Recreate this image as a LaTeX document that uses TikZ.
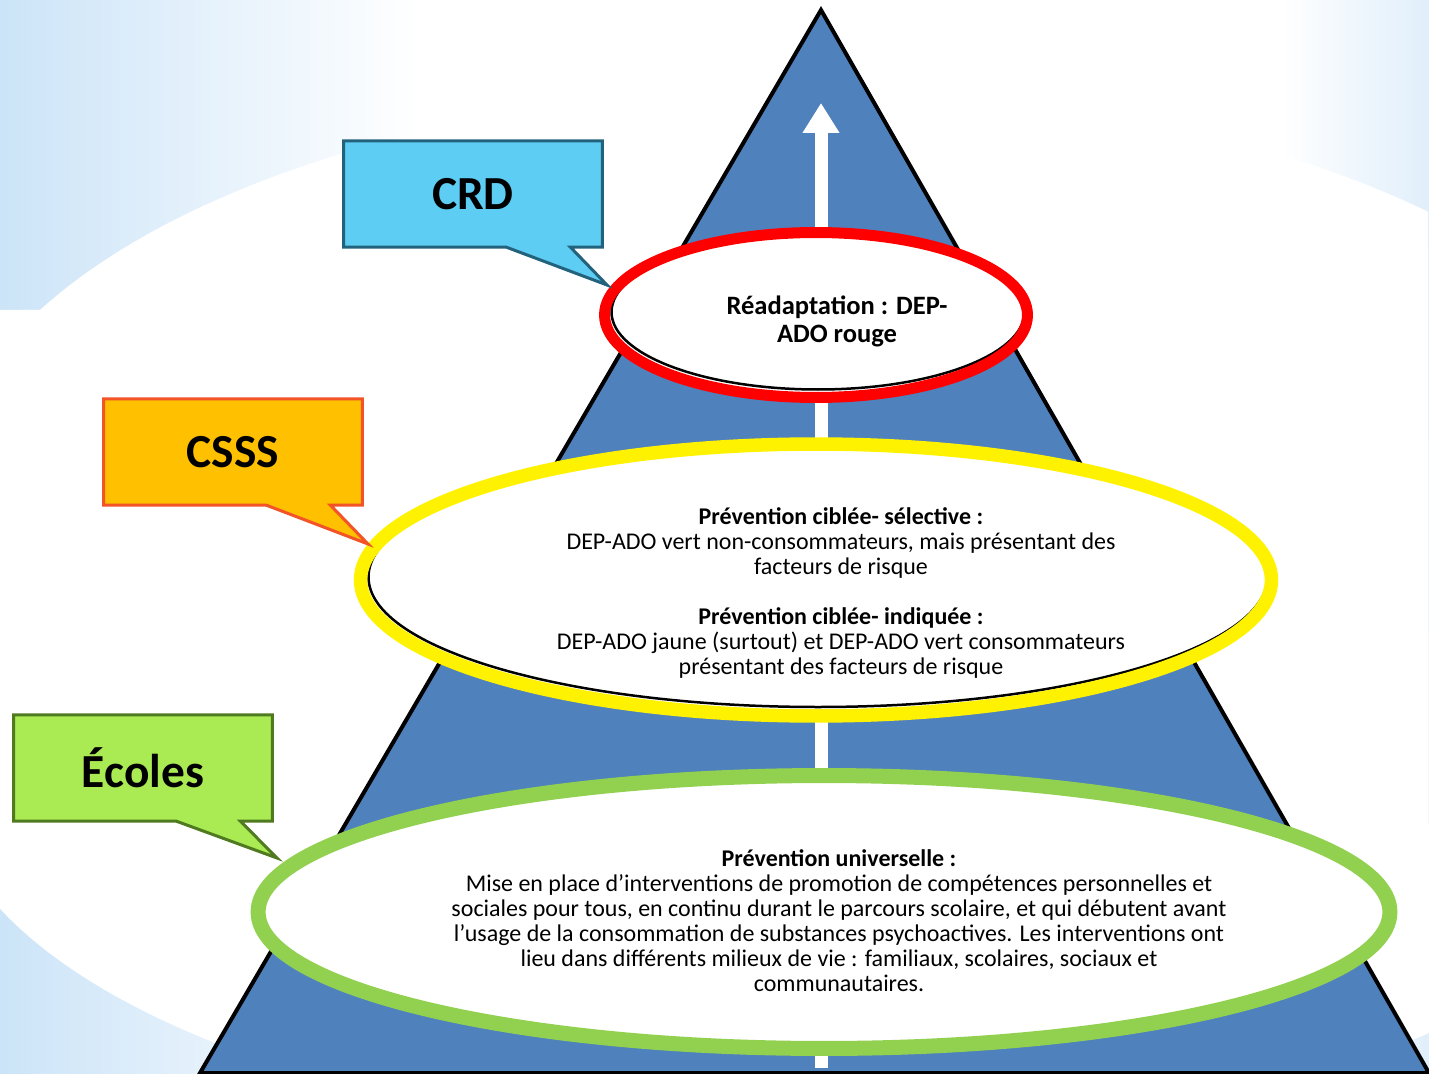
\documentclass[tikz,border=0pt]{standalone}
\usepackage{fontspec}
\setmainfont{Carlito}
\usetikzlibrary{shapes.geometric, shapes.callouts, arrows.meta, positioning, calc}
\definecolor{washblue}{RGB}{204,228,248}
\definecolor{pyramidblue}{RGB}{79,129,189}
\definecolor{ringgreen}{RGB}{146,208,80}
\definecolor{crdfill}{RGB}{94,205,243}
\definecolor{crdline}{RGB}{35,98,125}
\definecolor{csssfill}{RGB}{255,192,0}
\definecolor{csssline}{RGB}{242,84,40}
\definecolor{ecolesfill}{RGB}{170,235,84}
\definecolor{ecolesline}{RGB}{79,122,32}
\tikzset{
    ringfill/.style={
        ellipse,
        fill=white,
        inner sep=0pt
    },
    ring/.style={
        ellipse,
        draw=#1,
        inner sep=0pt
    },
    ringshadow/.style={
        draw=black,
        line width=0.05cm
    },
    bubble/.style 2 args={
        rectangle callout,
        fill=#1,
        draw=#2,
        line width=0.06cm,
        minimum width=5.18cm,
        minimum height=2.13cm,
        inner sep=0pt,
        callout pointer width=1.28cm,
        font=\fontsize{27}{30}\selectfont\bfseries
    },
    leveltext/.style={
        align=center,
        inner sep=0pt,
        font=\fontsize{13.65}{14.2}\selectfont
    },
}
\begin{document}
\begin{tikzpicture}[x=0.02cm, y=-0.02cm]
\useasboundingbox (0,0) rectangle (1429,1074);

% Background wash
\fill[left color=washblue, right color=white] (0,0) rectangle (420,1074);
\fill[left color=white, right color=washblue!60] (1280,0) rectangle (1429,1074);
\fill[white] (0,310) -- (40,310)
    arc[start angle=207.8, end angle=315.3, x radius=870, y radius=415]
    -- (1429,1033)
    arc[start angle=44.64, end angle=158.6, x radius=870, y radius=368] -- cycle;

% Pyramid
\coordinate (apex) at (821,10);
\coordinate (baseL) at (200,1073);
\coordinate (baseR) at (1429,1073);
\filldraw[fill=pyramidblue, draw=black, line width=0.08cm] (apex) -- (baseL) -- (baseR) -- cycle;

% Upward arrow
\coordinate (arrowfoot) at (821,1068);
\coordinate (arrowtip) at (821,103);
\draw[white, line width=0.26cm, -{Triangle[width=0.7cm, length=0.6cm]}] (arrowfoot) -- (arrowtip);

% Level 3: CRD
\node[ringfill, minimum width=8.46cm, minimum height=3.3cm] (redfill) at (816,315) {};
\draw[ringshadow] ([shift={(2,-3)}]redfill.center) ellipse (206.5 and 77.5);
\node[ring=red, line width=0.22cm, minimum width=8.46cm, minimum height=3.3cm] (redring) at (redfill) {};
\node[leveltext, font=\fontsize{15.1}{15.9}\selectfont\bfseries] (redtext) at (837,321) {
    Réadaptation : DEP-\\
    ADO rouge
};

% Level 2: CSSS
\node[ringfill, minimum width=18.22cm, minimum height=5.44cm] (yellowfill) at (816,580) {};
\draw[ringshadow] ([shift={(2,-3)}]yellowfill.center) ellipse (449.5 and 130);
\node[ring=yellow, line width=0.27cm, minimum width=18.22cm, minimum height=5.44cm] (yellowring) at (yellowfill) {};
\node[leveltext] (yellowtext) at (841,593) {
    \textbf{Prévention ciblée- sélective :}\\
    DEP-ADO vert non-consommateurs, mais présentant des\\
    facteurs de risque\\[14.2pt]
    \textbf{Prévention ciblée- indiquée :}\\
    DEP-ADO jaune (surtout) et DEP-ADO vert consommateurs\\
    présentant des facteurs de risque
};

% Level 1: Écoles
\node[ringfill, minimum width=22.64cm, minimum height=5.46cm] (greenfill) at (824,912) {};
\node[ring=ringgreen, line width=0.3cm, minimum width=22.64cm, minimum height=5.46cm] (greenring) at (greenfill) {};
\node[leveltext] (greentext) at (839,921) {
    \textbf{Prévention universelle :}\\
    Mise en place d’interventions de promotion de compétences personnelles et\\
    sociales pour tous, en continu durant le parcours scolaire, et qui débutent avant\\
    l’usage de la consommation de substances psychoactives. Les interventions ont\\
    lieu dans différents milieux de vie : familiaux, scolaires, sociaux et\\
    communautaires.
};

% Callouts
\coordinate (crdtip) at (607,285);
\coordinate (cssstip) at (368,544);
\coordinate (ecolestip) at (277,858);
\node[bubble={crdfill}{crdline}, callout absolute pointer={(crdtip)}] (crd) at (473,194) {CRD};
\node[bubble={csssfill}{csssline}, callout absolute pointer={(cssstip)}] (csss) at (233,452) {CSSS};
\node[bubble={ecolesfill}{ecolesline}, callout absolute pointer={(ecolestip)}] (ecoles) at (143,768) {Écoles};

\end{tikzpicture}
\end{document}
